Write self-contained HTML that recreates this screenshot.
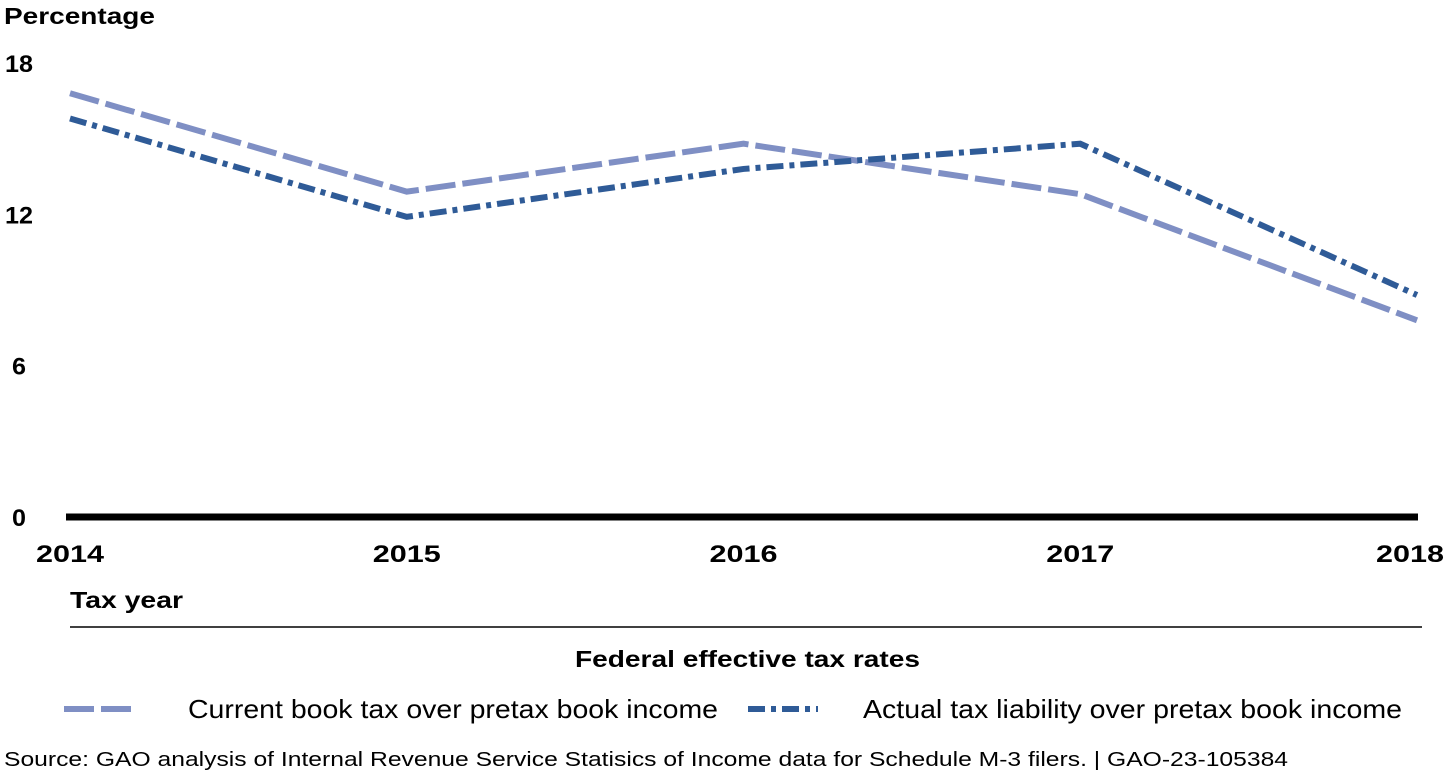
<!DOCTYPE html>
<html><head><meta charset="utf-8"><style>
body{margin:0;background:#fff;width:1456px;height:776px;overflow:hidden;font-family:"Liberation Sans",Arial,sans-serif}
svg{position:absolute;left:0;top:0}
</style></head><body>
<svg width="1456" height="776">
<text x="4" y="24" font-size="23" font-weight="bold" fill="#000" textLength="151" lengthAdjust="spacingAndGlyphs">Percentage</text>
<g id="yticks"></g>
<line x1="66" y1="517" x2="1418" y2="517" stroke="#000" stroke-width="7"/>
<g id="xticks"></g>
<g id="series"></g>
<text x="70" y="608" font-size="23" font-weight="bold" textLength="113" lengthAdjust="spacingAndGlyphs">Tax year</text>
<line x1="70" y1="627" x2="1422" y2="627" stroke="#000" stroke-width="1.5"/>
<text x="575" y="667" font-size="23" font-weight="bold" textLength="345" lengthAdjust="spacingAndGlyphs">Federal effective tax rates</text>
<g>
<line x1="64" y1="709" x2="132" y2="709" stroke="#7f8fc4" stroke-width="6" stroke-dasharray="30,7"/>
<text x="188" y="718" font-size="26" textLength="530" lengthAdjust="spacingAndGlyphs">Current book tax over pretax book income</text></g>
<g>
<line x1="748" y1="709" x2="818" y2="709" stroke="#2f5b97" stroke-width="6" stroke-dasharray="17,6,5,6"/>
<text x="863" y="718" font-size="26" textLength="539" lengthAdjust="spacingAndGlyphs">Actual tax liability over pretax book income</text></g>
<text x="4" y="766" font-size="20" textLength="1284" lengthAdjust="spacingAndGlyphs">Source: GAO analysis of Internal Revenue Service Statisics of  Income data for Schedule M-3 filers.  |  GAO-23-105384</text>
</svg>
<script>
const years=["2014","2015","2016","2017","2018"];
const currentBook=[16.8,12.9,14.8,12.8,7.8];
const actualTax=[15.8,11.9,13.8,14.8,8.8];
const yTicks=[0,6,12,18];
const NS="http://www.w3.org/2000/svg";
const x=i=>70+i*(1417-70)/(years.length-1);
const y=v=>517-v*(517-63)/18;
const yt=document.getElementById('yticks');
yTicks.forEach(t=>{const e=document.createElementNS(NS,'text');
e.setAttribute('x',19);e.setAttribute('y',y(t)+9);e.setAttribute('font-size','24');e.setAttribute('font-weight','bold');
e.setAttribute('text-anchor','middle');e.textContent=t;
e.setAttribute('textLength',String(t).length*14);e.setAttribute('lengthAdjust','spacingAndGlyphs');


yt.appendChild(e);});
const xt=document.getElementById('xticks');
years.forEach((yr,i)=>{const e=document.createElementNS(NS,'text');
let xx=x(i);if(i==years.length-1)xx=1410;
e.setAttribute('x',xx-34);e.setAttribute('y',562);e.setAttribute('font-size','24');e.setAttribute('font-weight','bold');
e.setAttribute('textLength','68');e.setAttribute('lengthAdjust','spacingAndGlyphs');
e.textContent=yr;


xt.appendChild(e);});
const sg=document.getElementById('series');
function line(vals,color,dash,name){const p=document.createElementNS(NS,'polyline');
p.setAttribute('points',vals.map((v,i)=>x(i)+','+y(v)).join(' '));
p.setAttribute('fill','none');p.setAttribute('stroke',color);p.setAttribute('stroke-width','6');
p.setAttribute('stroke-dasharray',dash);


sg.appendChild(p);}
line(currentBook,'#7f8fc4','30,7','line-current-book-tax');
line(actualTax,'#2f5b97','17,6,5,6','line-actual-tax-liability');
</script>
</body></html>
